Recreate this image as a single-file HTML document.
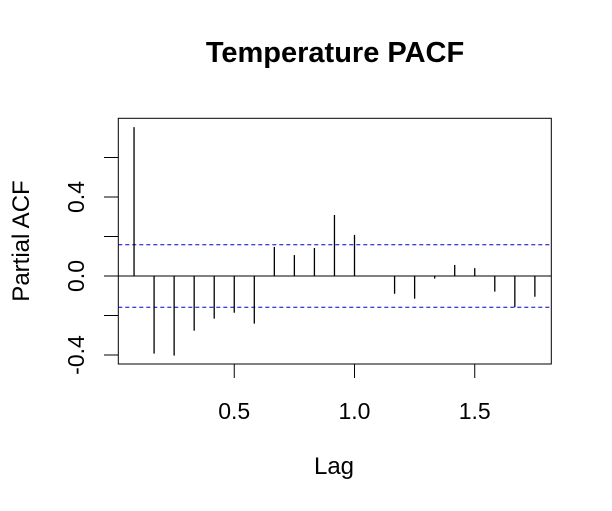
<!DOCTYPE html>
<html><head><meta charset="utf-8"><style>body{margin:0;background:#fff}svg{display:block;font-family:"Liberation Sans",Arial,sans-serif}</style></head>
<body>
<svg id="chart" width="612" height="511" xmlns="http://www.w3.org/2000/svg">
<rect width="612" height="511" fill="#fff"/>
<text x="335" y="62" text-anchor="middle" font-size="29" font-weight="bold">Temperature PACF</text>
<rect x="118.3" y="118.3" width="433" height="245.7" fill="none" stroke="#000" stroke-width="1"/>
<text x="334" y="474" text-anchor="middle" font-size="24">Lag</text>
<text transform="translate(29,241) rotate(-90)" text-anchor="middle" font-size="24">Partial ACF</text>
<g id="marks"></g>
</svg>
<script>
const lags = [1,2,3,4,5,6,7,8,9,10,11,12,13,14,15,16,17,18,19,20,21];
const pacf = [0.754,-0.393,-0.403,-0.277,-0.216,-0.186,-0.241,0.147,0.106,0.142,0.309,0.208,0.0,-0.090,-0.115,-0.013,0.056,0.040,-0.079,-0.158,-0.105];
const ciBound = [0.158];
const xTicks = [0.5,1.0,1.5];
const xTickLabels = ["0.5","1.0","1.5"];
const yTicks = [-0.4,-0.2,0.0,0.2,0.4,0.6];
const yTickLabels = ["-0.4","0.0","0.4"];
const yLabelValues = [-0.4,0.0,0.4];
const freq = 12;

const NS="http://www.w3.org/2000/svg";
const g=document.getElementById('marks');
const X=v=>114+v*240.5;
const Y=v=>276-v*197.5;
function mk(t,a){const e=document.createElementNS(NS,t);for(const k in a)e.setAttribute(k,a[k]);g.appendChild(e);return e;}

let z=mk('line',{x1:118.3,x2:551.3,y1:Y(0),y2:Y(0),stroke:'#000','stroke-width':1});


[ciBound[0],-ciBound[0]].forEach((c,i)=>{
  const l=mk('line',{x1:118.3,x2:551.3,y1:Y(c),y2:Y(c),stroke:'#0000cc','stroke-width':1,'stroke-dasharray':'4,3'});
  
  
});
lags.forEach((k,i)=>{
  const x=X(k/freq);
  const b=mk('line',{x1:x,x2:x,y1:Y(0),y2:Y(pacf[i]),stroke:'#000','stroke-width':1.3});
  
  
});
xTicks.forEach((t,i)=>{
  const x=X(t);
  const tk=mk('line',{x1:x,x2:x,y1:364,y2:378,stroke:'#000'});
  
  
  const tx=mk('text',{x:x,y:419,'text-anchor':'middle','font-size':23});
  tx.textContent=xTickLabels[i];
  
  
});
yTicks.forEach(t=>{
  const y=Y(t);
  const tk=mk('line',{x1:104,x2:118.3,y1:y,y2:y,stroke:'#000'});
  
  
});
yLabelValues.forEach((t,i)=>{
  const y=Y(t);
  const tx=mk('text',{transform:`translate(84,${y}) rotate(-90)`,'text-anchor':'middle','font-size':23});
  tx.textContent=yTickLabels[i];
  
  
});
</script>
</body></html>
